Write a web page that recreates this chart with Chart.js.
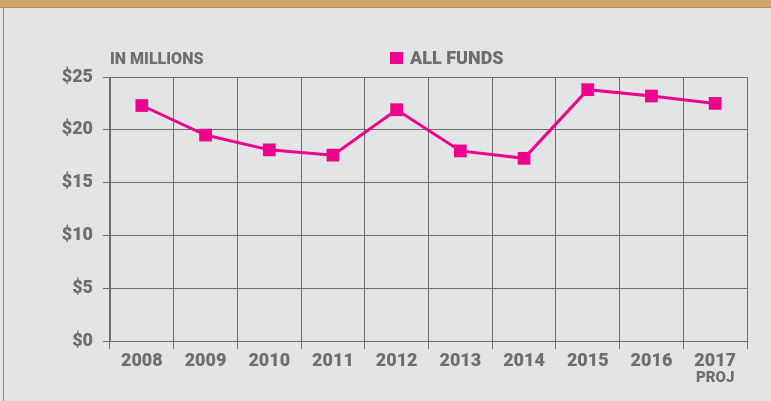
<!DOCTYPE html>
<html>
<head>
<meta charset="utf-8">
<script src="https://cdn.jsdelivr.net/npm/chart.js@4/dist/chart.umd.min.js"></script>
<style>
  html, body { margin: 0; padding: 0; background: #E3E4E6; }
  #wrap { position: relative; width: 771px; height: 401px; background: #E3E4E6; overflow: hidden; }
  #band { position: absolute; left: 0; top: 0; width: 771px; height: 7px; background: #D3A366; border-bottom: 1px solid #B58F60; }
  #lborder { position: absolute; left: 3px; top: 8px; width: 1px; height: 393px; background: #8C8C8E; }
  #c { position: absolute; left: 0; top: 0; }
</style>
</head>
<body>
<div id="wrap">
  <canvas id="c" width="771" height="401"></canvas>
  <div id="band"></div>
  <div id="lborder"></div>
</div>
<script>
const categories = ["2008", "2009", "2010", "2011", "2012", "2013", "2014", "2015", "2016", "2017"];
const allFunds = [22.3, 19.5, 18.1, 17.6, 21.9, 18.0, 17.3, 23.8, 23.2, 22.5];
const yTicks = [0, 5, 10, 15, 20, 25];
const seriesName = "ALL FUNDS";
const unitLabel = "IN MILLIONS";
const projNote = "PROJ";

const GREY = "#6D6E70";
const PINK = "#EC008C";
const FONT = "Roboto, Lato, sans-serif";
const W = "900";

const overlay = {
  id: "overlay",
  afterDraw(chart) {
    const ctx = chart.ctx;
    const x = chart.scales.x;
    ctx.save();
    ctx.fillStyle = GREY;
    ctx.textBaseline = "middle";
    ctx.font = W + " 16px " + FONT;
    ctx.textAlign = "left";
    ctx.fillText(unitLabel, 110, 60);
    // legend
    ctx.fillStyle = PINK;
    ctx.fillRect(390, 52, 13, 12);
    ctx.fillStyle = GREY;
    ctx.font = W + " 18px " + FONT;
    ctx.fillText(seriesName, 410, 59);
    // PROJ under last label
    ctx.font = W + " 15px " + FONT;
    ctx.textAlign = "center";
    const px = x.getPixelForValue(categories.length - 1);
    ctx.fillText(projNote, px, 378);
    ctx.restore();
  }
};

new Chart(document.getElementById("c"), {
  type: "line",
  data: {
    labels: categories,
    datasets: [{
      label: seriesName,
      data: allFunds,
      borderColor: PINK,
      backgroundColor: PINK,
      borderWidth: 3,
      pointStyle: "rect",
      pointRadius: 9,
      pointHoverRadius: 9,
      pointBorderWidth: 0,
      tension: 0
    }]
  },
  options: {
    responsive: false,
    animation: false,
    devicePixelRatio: 1,
    layout: { padding: { left: 0, right: 24, top: 77, bottom: 0 } },
    plugins: { legend: { display: false }, tooltip: { enabled: false } },
    scales: {
      x: {
        type: "category",
        offset: true,
        afterFit(s) { s.height = 60; },
        grid: {
          offset: true,
          color: ctx => (ctx.index === categories.length ? "#9A9B9D" : GREY),
          lineWidth: 1, tickLength: 8, drawTicks: true
        },
        border: { color: GREY, width: 1 },
        ticks: { color: GREY, font: { family: FONT, size: 18, weight: W }, padding: 2, maxRotation: 0 }
      },
      y: {
        min: 0, max: 25,
        afterFit(s) { s.width = 110; },
        afterBuildTicks(s) { s.ticks = yTicks.map(v => ({ value: v })); },
        grid: { color: GREY, lineWidth: 1, tickLength: 7 },
        border: { color: GREY, width: 1 },
        ticks: { color: GREY, font: { family: FONT, size: 18, weight: W }, padding: 10, callback: v => "$" + v }
      }
    }
  },
  plugins: [overlay]
});
</script>
</body>
</html>
